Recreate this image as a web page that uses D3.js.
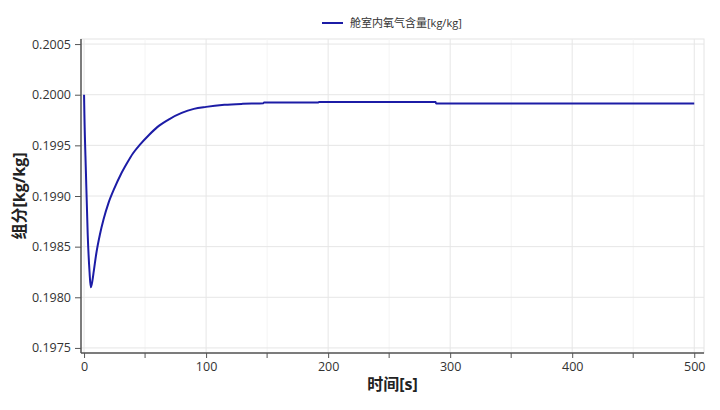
<!DOCTYPE html>
<html>
<head>
<meta charset="utf-8">
<script src="https://cdn.jsdelivr.net/npm/d3@7"></script>
<style>
  body { margin: 0; background: #fff; }
  #chart text { font-family: "Open Sans", "Noto Sans CJK SC", sans-serif; }
</style>
</head>
<body>
<div id="chart"></div>
<script>
// time [s]
var times = [0, 0.3, 1.5, 3, 4.5, 5.5, 6.5, 8, 10, 13, 16, 20, 25, 30, 35, 40, 46, 53, 60, 70, 80, 90,
  100, 115, 130, 147, 147.5, 192, 192.5, 288, 288.5, 500];
// cabin oxygen mass fraction [kg/kg]
var oxygen = [0.20000, 0.19980, 0.19925, 0.19862, 0.19825, 0.19810, 0.19814, 0.19826, 0.19843, 0.19862,
  0.19877, 0.19893, 0.19908, 0.19921, 0.19932, 0.19942, 0.19951, 0.19960, 0.19968, 0.19976, 0.19982,
  0.19986, 0.19988, 0.19990, 0.19991, 0.199916, 0.199923, 0.199923, 0.199927, 0.199927, 0.199914, 0.199914];
var xTicks = [0, 100, 200, 300, 400, 500];
var xMinorTicks = [50, 150, 250, 350, 450];
var yTicks = [0.1975, 0.1980, 0.1985, 0.1990, 0.1995, 0.2000, 0.2005];
var seriesName = "舱室内氧气含量[kg/kg]";
var xTitle = "时间[s]";
var yTitle = "组分[kg/kg]";

render();

function render() {
  var dataset = [];
  for (var i = 0; i < times.length; i++) {
    dataset.push({ t: times[i], v: oxygen[i] });
  }

  var W = 720, H = 410;
  var left = 81, right = 704, top = 39, bottom = 353;

  var svg = d3.select("#chart").append("svg")
    .attr("width", W)
    .attr("height", H);

  var xScale = d3.scaleLinear().domain([-2.5, 508]).range([left, right]);
  var yScale = d3.scaleLinear().domain([0.19745, 0.20055]).range([bottom, top]);

  // plot frame
  svg.append("rect")
    .attr("x", left).attr("y", top)
    .attr("width", right - left).attr("height", bottom - top)
    .attr("fill", "none")
    .attr("stroke", "#e4e4e4");

  // grid
  var grid = svg.append("g");
  grid.selectAll(".vminor").data(xMinorTicks).enter().append("line")
    .attr("x1", function (d) { return xScale(d); })
    .attr("x2", function (d) { return xScale(d); })
    .attr("y1", top).attr("y2", bottom)
    .attr("stroke", "#f4f4f4");
  grid.selectAll(".v").data(xTicks).enter().append("line")
    .attr("x1", function (d) { return xScale(d); })
    .attr("x2", function (d) { return xScale(d); })
    .attr("y1", top).attr("y2", bottom)
    .attr("stroke", "#e6e6e6");
  grid.selectAll(".h").data(yTicks).enter().append("line")
    .attr("x1", left).attr("x2", right)
    .attr("y1", function (d) { return yScale(d); })
    .attr("y2", function (d) { return yScale(d); })
    .attr("stroke", "#e6e6e6");

  var line = d3.line()
    .curve(d3.curveMonotoneX)
    .x(function (d) { return xScale(d.t); })
    .y(function (d) { return yScale(d.v); });

  svg.append("path")
    .datum(dataset)
    .attr("fill", "none")
    .attr("stroke", "#1c1ca6")
    .attr("stroke-width", 2)
    .attr("stroke-linejoin", "round")
    .attr("d", line);

  // x axis
  var xAxis = svg.append("g")
    .attr("transform", "translate(0," + bottom + ")")
    .call(d3.axisBottom(xScale).tickValues(xTicks).tickSizeOuter(0).tickSize(5).tickPadding(4));
  xAxis.append("g").selectAll("line").data(xMinorTicks).enter().append("line")
    .attr("x1", function (d) { return xScale(d); })
    .attr("x2", function (d) { return xScale(d); })
    .attr("y1", 0).attr("y2", 5)
    .attr("stroke", "#555");
  xAxis.select(".domain").attr("d", "M" + left + ",0H" + right).attr("stroke", "#555").attr("stroke-width", 1.5);
  xAxis.selectAll(".tick line").attr("stroke", "#555");
  xAxis.selectAll("text").style("font-size", "12.5px").attr("fill", "#333");

  // y axis
  var yAxis = svg.append("g")
    .attr("transform", "translate(" + left + ",0)")
    .call(d3.axisLeft(yScale).tickValues(yTicks).tickFormat(d3.format(".4f")).tickSizeOuter(0).tickSize(6).tickPadding(4));
  yAxis.select(".domain").attr("d", "M0," + top + "V" + bottom).attr("stroke", "#555").attr("stroke-width", 1.5);
  yAxis.selectAll(".tick line").attr("stroke", "#555");
  yAxis.selectAll("text").style("font-size", "12.5px").attr("fill", "#333");

  // axis titles
  svg.append("text")
    .attr("x", (left + right) / 2)
    .attr("y", 390)
    .attr("text-anchor", "middle")
    .style("font-size", "16px")
    .style("font-weight", "bold")
    .attr("fill", "#222")
    .text(xTitle);

  svg.append("text")
    .attr("transform", "translate(25," + ((top + bottom) / 2) + ") rotate(-90)")
    .attr("text-anchor", "middle")
    .style("font-size", "16px")
    .style("font-weight", "bold")
    .attr("fill", "#222")
    .text(yTitle);

  // legend
  var legend = svg.append("g").attr("transform", "translate(322,23)");
  legend.append("line")
    .attr("x1", 0).attr("x2", 21).attr("y1", 0).attr("y2", 0)
    .attr("stroke", "#1c1ca6").attr("stroke-width", 2);
  legend.append("text")
    .attr("x", 28).attr("y", 4)
    .style("font-size", "11px")
    .attr("fill", "#333")
    .text(seriesName);
}
</script>
</body>
</html>
